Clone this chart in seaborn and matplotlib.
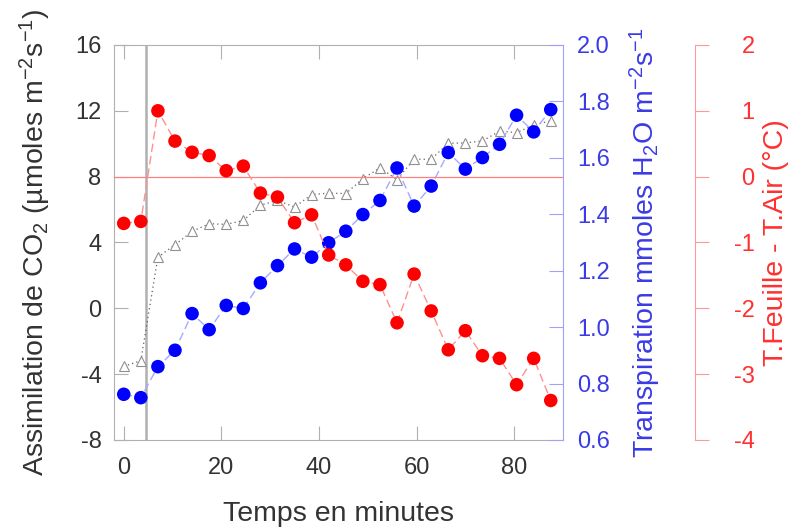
import numpy as np
import pandas as pd
import seaborn as sns
import matplotlib.pyplot as plt

# data
temps = [0, 3.5, 7, 10.5, 14, 17.5, 21, 24.5, 28, 31.5, 35, 38.5, 42,
         45.5, 49, 52.5, 56, 59.5, 63, 66.5, 70, 73.5, 77, 80.5, 84, 87.5]
assimilation = [-3.53, -3.18, 3.11, 3.86, 4.67, 5.14, 5.10, 5.34, 6.26, 6.56,
                6.15, 6.91, 7.00, 6.97, 7.88, 8.53, 7.82, 9.06, 9.06, 10.03,
                10.05, 10.17, 10.76, 10.68, 11.13, 11.39]
transpiration = [0.762, 0.750, 0.860, 0.918, 1.048, 0.991, 1.077, 1.066, 1.157,
                 1.218, 1.277, 1.248, 1.299, 1.340, 1.399, 1.449, 1.564, 1.429,
                 1.500, 1.619, 1.560, 1.601, 1.648, 1.751, 1.692, 1.771]
delta_t = [-0.71, -0.68, 1.00, 0.54, 0.37, 0.32, 0.09, 0.16, -0.25, -0.31,
           -0.70, -0.58, -1.19, -1.34, -1.59, -1.64, -2.22, -1.48, -2.04, -2.63,
           -2.34, -2.72, -2.76, -3.16, -2.76, -3.40]
debut = 4.6

df = pd.DataFrame({'temps': temps, 'A': assimilation, 'E': transpiration, 'dT': delta_t})

sns.set_style('white')
plt.rcParams['font.family'] = ['Liberation Sans', 'DejaVu Sans']
plt.rcParams['mathtext.fontset'] = 'custom'
plt.rcParams['mathtext.rm'] = 'Liberation Sans'
plt.rcParams['mathtext.it'] = 'Liberation Sans:italic'
plt.rcParams['axes.unicode_minus'] = False

fig = plt.figure(figsize=(7.91, 5.31), dpi=100)
ax = fig.add_axes([0.1441, 0.1714, 0.5676, 0.7439])
ax2 = ax.twinx()
ax3 = ax.twinx()

gris = '#b0b0b0'
# assimilation (open triangles, dotted line)
sns.lineplot(data=df, x='temps', y='A', ax=ax, color='#606060', lw=0.9,
             linestyle=(0, (1, 2.5)), marker='^', ms=7, mfc='white',
             mec='#909090', mew=0.8)
ax.axvline(debut, color='#b0b0b0', lw=1.8, zorder=1)

# transpiration (blue)
sns.lineplot(data=df, x='temps', y='E', ax=ax2, color='#a8a8ff', lw=1,
             linestyle=(0, (6, 3)))
sns.scatterplot(data=df, x='temps', y='E', ax=ax2, color='#0000ff', s=95,
                edgecolor='none', zorder=3)

# T feuille - T air (red)
ax3.axhline(0, color='#ff8080', lw=0.9)
sns.lineplot(data=df, x='temps', y='dT', ax=ax3, color='#ff9090', lw=1,
             linestyle=(0, (6, 3)))
sns.scatterplot(data=df, x='temps', y='dT', ax=ax3, color='#ff0000', s=95,
                edgecolor='none', zorder=3)

ax.set_xlim(-2, 90)
ax.set_ylim(-8, 16)
ax.set_xticks([0, 20, 40, 60, 80])
ax.set_yticks([-8, -4, 0, 4, 8, 12, 16])
ax2.set_ylim(0.6, 2.0)
ax2.set_yticks([0.6, 0.8, 1.0, 1.2, 1.4, 1.6, 1.8, 2.0])
ax2.set_yticklabels(['0.6', '0.8', '1.0', '1.2', '1.4', '1.6', '1.8', '2.0'])
ax3.set_ylim(-4, 2)
ax3.set_yticks([-4, -3, -2, -1, 0, 1, 2])

for s in ['left', 'top', 'bottom']:
    ax.spines[s].set_color(gris)
ax.spines['right'].set_visible(False)
for s in ['left', 'top', 'bottom']:
    ax2.spines[s].set_visible(False)
    ax3.spines[s].set_visible(False)
ax2.spines['right'].set_color('#a0a0ff')
ax3.spines['right'].set_position(('axes', 1.294))
ax3.spines['right'].set_color('#ff9999')

ax.tick_params(axis='both', direction='in', length=10, color=gris,
               labelsize=17, labelcolor='#333333', pad=9,
               top=True, bottom=True)
ax.tick_params(axis='x', pad=12)
ax2.tick_params(axis='y', direction='in', length=10, color='#a0a0ff',
                labelsize=17, labelcolor='#3b3be6', pad=10)
ax3.tick_params(axis='y', direction='out', length=10, color='#ff9999',
                labelsize=17, labelcolor='#ff3030', pad=33)
for t in ax3.get_yticklabels():
    t.set_horizontalalignment('right')

ax.set_xlabel('Temps en minutes', fontsize=20.5, color='#333333')
ax.set_ylabel('Assimilation de CO$_2$ (µmoles m$^{-2}$s$^{-1}$)',
              fontsize=20.5, color='#333333')
ax2.set_ylabel('Transpiration mmoles H$_2$O m$^{-2}$s$^{-1}$',
               fontsize=20.5, color='#3b3be6')
ax3.set_ylabel('T.Feuille - T.Air (°C)', fontsize=20.5, color='#ff3030')
ax.xaxis.set_label_coords(0.5, -0.155)
ax.yaxis.set_label_coords(-0.136, 0.5)
ax2.yaxis.set_label_coords(1.145, 0.5)
ax3.yaxis.set_label_coords(1.445, 0.5)

ax3.set_zorder(3)
ax2.set_zorder(2)
ax.set_zorder(1)
ax2.patch.set_visible(False)
ax3.patch.set_visible(False)

fig.savefig('out.png', dpi=100)
